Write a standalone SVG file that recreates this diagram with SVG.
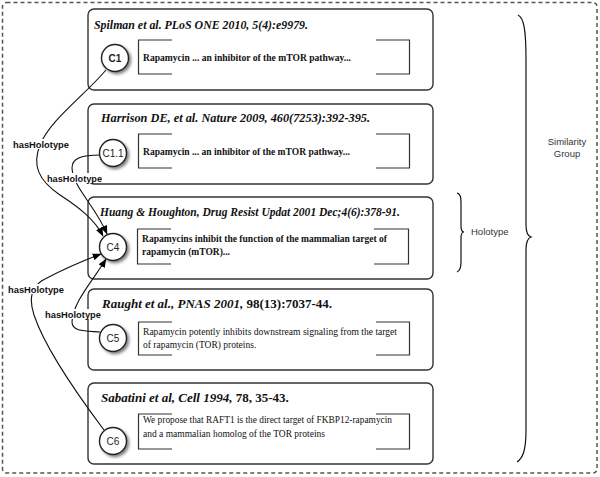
<svg xmlns="http://www.w3.org/2000/svg" width="600" height="477" viewBox="0 0 600 477">
<defs>
<style>
.box{fill:#fff;stroke:#333;stroke-width:1.4}
.br{fill:none;stroke:#333;stroke-width:1.2}
.ttl{font-family:"Liberation Serif",serif;font-size:13px;font-style:italic;font-weight:bold;fill:#111}
.up{font-style:normal}
.txb{font-family:"Liberation Serif",serif;font-size:9.5px;font-weight:bold;fill:#111}
.tx{font-family:"Liberation Serif",serif;font-size:9.5px;fill:#111}
.cir{fill:#fff;stroke:#222;stroke-width:1.4}
.cl{font-family:"Liberation Sans",sans-serif;font-size:10px;fill:#222;text-anchor:middle}
.con{fill:none;stroke:#111;stroke-width:1.1}
.lab{font-family:"Liberation Sans",sans-serif;font-size:9.5px;font-weight:bold;fill:#111}
.side{font-family:"Liberation Sans",sans-serif;font-size:9.5px;fill:#333}
.brace{fill:none;stroke:#111;stroke-width:1.2}
</style>
<filter id="sh" x="-50%" y="-50%" width="200%" height="200%">
<feDropShadow dx="2" dy="2" stdDeviation="1.8" flood-color="#000" flood-opacity="0.5"/>
</filter>
<marker id="ar" viewBox="0 0 10 8" refX="9.5" refY="4" markerWidth="9" markerHeight="7" markerUnits="userSpaceOnUse" orient="auto">
<path d="M0,0 L10,4 L0,8 z" fill="#000"/>
</marker>
</defs>
<rect width="600" height="477" fill="#fff"/>
<rect x="2.5" y="2.5" width="594.5" height="470.5" rx="4" fill="none" stroke="#555" stroke-width="1.5" stroke-dasharray="4,3"/>

<g id="box1">
<rect class="box" x="88" y="9" width="345" height="81" rx="6"/>
<text class="ttl" x="94" y="29" textLength="214" lengthAdjust="spacingAndGlyphs">Spilman et al. PLoS ONE 2010, 5(4):e9979.</text>
<path class="br" d="M172,40 H138.5 V74 H172 M376,40 H409.5 V74 H376"/>
<text class="txb" x="143" y="61" textLength="208" lengthAdjust="spacingAndGlyphs">Rapamycin ... an inhibitor of the mTOR pathway...</text>
</g>
<g id="box2">
<rect class="box" x="88" y="104" width="345" height="80" rx="6"/>
<text class="ttl" x="101" y="122" textLength="269" lengthAdjust="spacingAndGlyphs">Harrison DE, et al. Nature 2009, 460(7253):392-395.</text>
<path class="br" d="M172,134 H138.5 V168 H172 M376,134 H409.5 V168 H376"/>
<text class="txb" x="143" y="155" textLength="207" lengthAdjust="spacingAndGlyphs">Rapamycin ... an inhibitor of the mTOR pathway...</text>
</g>
<g id="box3">
<rect class="box" x="88" y="197" width="345" height="82" rx="6"/>
<text class="ttl" x="100" y="216" textLength="300" lengthAdjust="spacingAndGlyphs">Huang &amp; Houghton, Drug Resist Updat 2001 Dec;4(6):378-91.</text>
<path class="br" d="M171,229 H137.5 V264 H171 M374,229 H408.5 V264 H374"/>
<text class="txb" x="142" y="242" textLength="245" lengthAdjust="spacingAndGlyphs">Rapamycins inhibit the function of the mammalian target of</text>
<text class="txb" x="142" y="255">rapamycin (mTOR)...</text>
</g>
<g id="box4">
<rect class="box" x="88" y="289" width="345" height="81" rx="6"/>
<text class="ttl" x="102" y="308" font-size="12">Raught et al., PNAS 2001, <tspan class="up">98(13):7037-44.</tspan></text>
<path class="br" d="M172,322 H138.5 V355 H172 M376,322 H409.5 V355 H376"/>
<text class="tx" x="143" y="335" textLength="254" lengthAdjust="spacingAndGlyphs">Rapamycin potently inhibits downstream signaling from the target</text>
<text class="tx" x="143" y="348">of rapamycin (TOR) proteins.</text>
</g>
<g id="box5">
<rect class="box" x="88" y="383" width="345" height="81" rx="6"/>
<text class="ttl" x="101" y="402" font-size="11.5">Sabatini et al, Cell 1994, <tspan class="up">78, 35-43.</tspan></text>
<path class="br" d="M172,414 H138.5 V449 H172 M376,414 H409.5 V449 H376"/>
<text class="tx" x="143" y="423" textLength="249" lengthAdjust="spacingAndGlyphs">We propose that RAFT1 is the direct target of FKBP12-rapamycin</text>
<text class="tx" x="143" y="437">and a mammalian homolog of the TOR proteins</text>
</g>

<g id="connectors">
<path class="con" d="M106,70 C85,95 50,120 40,145 C32,165 38,180 60,195 C80,208 95,220 103,236" marker-end="url(#ar)"/>
<path class="con" d="M100,155 C82,155 72,158 72,168 C73,188 95,205 107,234" marker-end="url(#ar)"/>
<path class="con" d="M100,332 C86,331 72,332 72,322 C73,302 92,282 106,259" marker-end="url(#ar)"/>
<path class="con" d="M104,430 C80,398 45,348 34,315 C28,297 33,285 45,279 C62,270 85,260 101,254" marker-end="url(#ar)"/>
<g>
<rect x="12" y="139" width="57" height="10" fill="#fff"/>
<text class="lab" x="13" y="148" textLength="56" lengthAdjust="spacingAndGlyphs">hasHolotype</text>
<rect x="46" y="173" width="57" height="10" fill="#fff"/>
<text class="lab" x="47" y="182" textLength="55" lengthAdjust="spacingAndGlyphs">hasHolotype</text>
<rect x="44" y="309" width="58" height="10" fill="#fff"/>
<text class="lab" x="45" y="318" textLength="56" lengthAdjust="spacingAndGlyphs">hasHolotype</text>
<rect x="7" y="284" width="58" height="10" fill="#fff"/>
<text class="lab" x="8" y="293" textLength="56" lengthAdjust="spacingAndGlyphs">hasHolotype</text>
</g>
</g>

<g id="C1"><circle class="cir" cx="115" cy="58" r="13.5" filter="url(#sh)"/><text class="cl" x="115" y="61.5" font-weight="bold">C1</text></g>
<g id="C1.1"><circle class="cir" cx="113" cy="153" r="13.5" filter="url(#sh)"/><text class="cl" x="113" y="156.5">C1.1</text></g>
<g id="C4"><circle class="cir" cx="113" cy="247" r="13.5" filter="url(#sh)"/><text class="cl" x="113" y="250.5">C4</text></g>
<g id="C5"><circle class="cir" cx="113" cy="338" r="13.5" filter="url(#sh)"/><text class="cl" x="113" y="341.5">C5</text></g>
<g id="C6"><circle class="cir" cx="113" cy="441" r="13.5" filter="url(#sh)"/><text class="cl" x="113" y="444.5">C6</text></g>

<g id="holotype">
<path class="brace" d="M457,193 C461,194 461,198 461,205 L461,226 C461,230 462,232 464,232 C462,232 461,234 461,238 L461,262 C461,268 460,271 457,272"/>
<text class="side" x="471" y="235">Holotype</text>
</g>
<g id="similarity">
<path class="brace" d="M518,15 C524,18 526,30 526,60 L526,225 C526,232 528,236 531,237 C528,238 526,242 526,250 L526,430 C526,450 523,458 517,462"/>
<text class="side" x="567" y="145" text-anchor="middle">Similarity</text>
<text class="side" x="567" y="157" text-anchor="middle">Group</text>
</g>
</svg>
